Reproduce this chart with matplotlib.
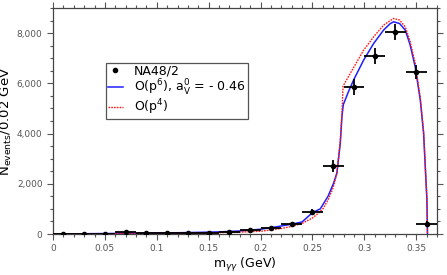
import matplotlib
matplotlib.use("Agg")
import matplotlib.pyplot as plt
from matplotlib.ticker import MultipleLocator, FuncFormatter
from matplotlib.lines import Line2D

# ---- data ----
data_x = [0.01, 0.03, 0.05, 0.07, 0.09, 0.11, 0.13, 0.15, 0.17, 0.19,
          0.21, 0.23, 0.25, 0.27, 0.29, 0.31, 0.33, 0.35, 0.36]
data_y = [5, 10, 15, 60, 20, 30, 30, 40, 70, 170,
          250, 400, 880, 2710, 5840, 7085, 8050, 6450, 400]
data_yerr = [30, 30, 30, 40, 30, 30, 30, 40, 50, 60,
             70, 80, 120, 250, 320, 330, 330, 290, 100]
data_xerr = [0.01] * 19

p6_x = [0.0, 0.02, 0.04, 0.06, 0.08, 0.10, 0.12, 0.14, 0.16, 0.18, 0.20,
        0.21, 0.22, 0.23, 0.24, 0.25, 0.2575, 0.265, 0.2703, 0.2735, 0.2768,
        0.2784, 0.2797, 0.285, 0.2896, 0.2993, 0.309, 0.3185, 0.325, 0.3282,
        0.334, 0.3394, 0.344, 0.349, 0.3539, 0.3571, 0.3587, 0.3603, 0.3608]
p6_y = [0, 8, 15, 22, 30, 40, 50, 65, 85, 120, 190,
        250, 320, 390, 480, 850, 1000, 1500, 2020, 2415, 3610,
        4670, 5150, 5700, 6130, 6925, 7590, 8120, 8380, 8450,
        8380, 8119, 7550, 6660, 5333, 4010, 2680, 1350, 0]

p4_x = [0.0, 0.02, 0.04, 0.06, 0.08, 0.10, 0.12, 0.14, 0.16, 0.18, 0.20,
        0.21, 0.22, 0.23, 0.24, 0.25, 0.255, 0.26, 0.265, 0.27, 0.2735, 0.2768,
        0.2784, 0.2795, 0.2864, 0.2993, 0.309, 0.3185, 0.325, 0.3282,
        0.334, 0.3394, 0.344, 0.349, 0.3539, 0.3571, 0.3587, 0.3603, 0.3608]
p4_y = [0, 4, 8, 12, 18, 25, 32, 42, 55, 75, 110,
        160, 220, 300, 420, 640, 800, 1000, 1350, 1850, 2415, 3700,
        4800, 5890, 6395, 7323, 7853, 8318, 8500, 8583,
        8520, 8250, 7680, 6800, 5420, 4060, 2700, 1370, 0]

labels = ["NA48/2", r"O(p$^6$), a$^0_{\rm V}$ = - 0.46", r"O(p$^4$)"]

# ---- figure ----
fig = plt.figure(figsize=(4.47, 2.75), dpi=100)
ax = fig.add_axes([53/447, 1-234/275, 384/447, 226/275])

ax.plot(p6_x, p6_y, color="#1f1fff", lw=1.1, zorder=3)
ax.plot(p4_x, p4_y, color="#ff1a1a", lw=1.0, ls=(0, (1.2, 0.8)), zorder=3)
ax.errorbar(data_x, data_y, xerr=data_xerr, yerr=data_yerr, fmt="o",
            color="black", ms=3, elinewidth=1.3, capsize=0, zorder=4)

ax.set_xlim(0, 0.37)
ax.set_ylim(0, 9000)
ax.xaxis.set_major_locator(MultipleLocator(0.05))
ax.xaxis.set_minor_locator(MultipleLocator(0.01))
ax.yaxis.set_major_locator(MultipleLocator(2000))
ax.yaxis.set_minor_locator(MultipleLocator(500))
ax.xaxis.set_major_formatter(FuncFormatter(lambda v, p: "0" if abs(v) < 1e-9 else f"{v:g}"))
ax.yaxis.set_major_formatter(FuncFormatter(lambda v, p: f"{int(v):,}"))

tc = "#555555"
ax.tick_params(which="both", direction="out", top=True, right=True,
               colors=tc, labelsize=6.5, width=0.8)
ax.tick_params(which="major", length=4)
ax.tick_params(which="minor", length=2.5)
for s in ax.spines.values():
    s.set_color("#444444")
    s.set_linewidth(0.9)

ax.set_xlabel(r"m$_{\gamma\gamma}$ (GeV)", fontsize=9, labelpad=2)
ax.set_ylabel(r"N$_{\rm events}$/0.02 GeV", fontsize=9.5, labelpad=2)

handles = [Line2D([], [], color="black", marker="o", ms=3, ls="none"),
           Line2D([], [], color="#1f1fff", lw=1.1),
           Line2D([], [], color="#ff1a1a", lw=1.0, ls=(0, (1.2, 0.8)))]
leg = ax.legend(handles, labels, loc="upper left", bbox_to_anchor=(0.138, 0.757),
                fontsize=9, frameon=True, fancybox=False, framealpha=1,
                edgecolor="#555555", borderpad=0.15, labelspacing=0.0,
                handlelength=1.2, handletextpad=0.9, borderaxespad=0)
leg.get_frame().set_linewidth(0.9)

fig.savefig("out.png", dpi=100)
